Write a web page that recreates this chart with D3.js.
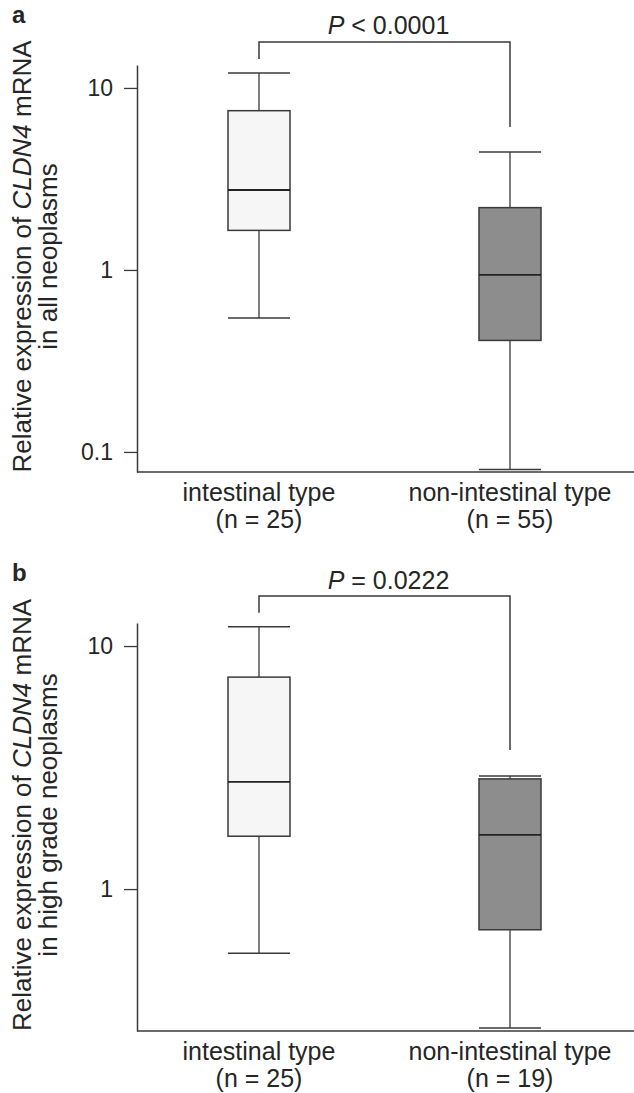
<!DOCTYPE html>
<html>
<head>
<meta charset="utf-8">
<script src="https://cdn.jsdelivr.net/npm/d3@7"></script>
<style>
  html, body { margin: 0; padding: 0; background: #fff; }
  text { font-family: Arial, "Liberation Sans", Helvetica, sans-serif; fill: #262626; }
</style>
</head>
<body>
<div id="chart"></div>
<script>
// groups on the x axis
const categories = ["intestinal type", "non-intestinal type"]
const countsA = [25, 55]
const countsB = [25, 19]

// box stats per group: [lower whisker, Q1, median, Q3, upper whisker]
const boxesA = [[0.545, 1.65, 2.75, 7.5, 12.1], [0.08, 0.41, 0.94, 2.2, 4.45]]
const boxesB = [[0.545, 1.65, 2.76, 7.45, 12.0], [0.268, 0.68, 1.67, 2.84, 2.92]]

// y ticks
const ticksA = [0.1, 1, 10]
const ticksB = [1, 10]

// labels
const panelLetters = ["a", "b"]
const pTexts = ["< 0.0001", "= 0.0222"]
const yLabelSecond = ["in all neoplasms", "in high grade neoplasms"]

window.onload = () => {

  const width = 634
  const height = 1093
  const fills = ["#f6f6f6", "#8d8d8d"]
  const lineColor = "#3a3a3a"

  const svg = d3.select("#chart")
    .append("svg")
    .attr("width", width)
    .attr("height", height)

  const x = d3.scalePoint()
    .domain(categories)
    .range([259, 510])

  const panels = [
    { letter: panelLetters[0], boxes: boxesA, counts: countsA, ticks: ticksA, p: pTexts[0], line2: yLabelSecond[0],
      y: d3.scaleLog().domain([0.0776, 13.37]).range([472, 65]), bracketTop: 42, legGap: [14, 25], textY: 34 },
    { letter: panelLetters[1], boxes: boxesB, counts: countsB, ticks: ticksB, p: pTexts[1], line2: yLabelSecond[1],
      y: d3.scaleLog().domain([0.2606, 12.44]).range([1031, 623]), bracketTop: 596, legGap: [14, 26], textY: 589 }
  ]

  const axisLeft = 137
  const boxW = 62

  panels.forEach(pn => {
    const g = svg.append("g")
    const [y0, y1] = pn.y.range()

    // panel letter
    g.append("text")
      .attr("x", 12)
      .attr("y", y1 - 42)
      .style("font-size", "24px")
      .style("font-weight", "bold")
      .text(pn.letter)

    // y axis
    const yAxis = d3.axisLeft(pn.y)
      .tickValues(pn.ticks)
      .tickFormat(d3.format("~g"))
      .tickSize(13)
      .tickPadding(11)
      .tickSizeOuter(0)

    const ya = g.append("g")
      .attr("transform", `translate(${axisLeft},0)`)
      .call(yAxis)
    ya.select(".domain").attr("stroke", lineColor).attr("stroke-width", 1.5)
    ya.selectAll(".tick line").attr("stroke", lineColor).attr("stroke-width", 1.3)
    ya.selectAll(".tick text")
      .style("font-size", "23px")
      .style("font-family", "Arial, 'Liberation Sans', sans-serif")
      .style("fill", "#262626")

    // x axis line
    g.append("line")
      .attr("x1", axisLeft).attr("x2", width)
      .attr("y1", y0).attr("y2", y0)
      .attr("stroke", lineColor)
      .attr("stroke-width", 1.5)

    // category labels
    categories.forEach((c, i) => {
      g.append("text")
        .attr("x", x(c))
        .attr("y", y0 + 29)
        .attr("text-anchor", "middle")
        .style("font-size", "25px")
        .text(c)
      g.append("text")
        .attr("x", x(c))
        .attr("y", y0 + 56)
        .attr("text-anchor", "middle")
        .style("font-size", "25px")
        .text(`(n = ${pn.counts[i]})`)
    })

    // y label
    const midY = (y0 + y1) / 2 - 12
    const lab = g.append("text")
      .attr("transform", `translate(31,${midY}) rotate(-90)`)
      .attr("text-anchor", "middle")
      .style("font-size", "26px")
    lab.append("tspan").text("Relative expression of ")
    lab.append("tspan").style("font-style", "italic").text("CLDN4")
    lab.append("tspan").text(" mRNA")

    g.append("text")
      .attr("transform", `translate(57,${midY}) rotate(-90)`)
      .attr("text-anchor", "middle")
      .style("font-size", "26px")
      .text(pn.line2)

    // boxes
    pn.boxes.forEach((b, i) => {
      const cx = x(categories[i])
      const [lo, q1, med, q3, hi] = b
      const bg = g.append("g")

      // whiskers
      bg.append("line")
        .attr("x1", cx).attr("x2", cx)
        .attr("y1", pn.y(q3)).attr("y2", pn.y(hi))
        .attr("stroke", lineColor).attr("stroke-width", 1.3)
      bg.append("line")
        .attr("x1", cx).attr("x2", cx)
        .attr("y1", pn.y(q1)).attr("y2", pn.y(lo))
        .attr("stroke", lineColor).attr("stroke-width", 1.3)

      // caps
      ;[lo, hi].forEach(v => {
        bg.append("line")
          .attr("x1", cx - boxW / 2).attr("x2", cx + boxW / 2)
          .attr("y1", pn.y(v)).attr("y2", pn.y(v))
          .attr("stroke", lineColor).attr("stroke-width", 1.5)
      })

      // box
      bg.append("rect")
        .attr("x", cx - boxW / 2)
        .attr("y", pn.y(q3))
        .attr("width", boxW)
        .attr("height", pn.y(q1) - pn.y(q3))
        .attr("fill", fills[i])
        .attr("stroke", lineColor)
        .attr("stroke-width", 1.5)

      // median
      bg.append("line")
        .attr("x1", cx - boxW / 2).attr("x2", cx + boxW / 2)
        .attr("y1", pn.y(med)).attr("y2", pn.y(med))
        .attr("stroke", "#222").attr("stroke-width", 1.8)
    })

    // significance bracket
    const xl = x(categories[0]), xr = x(categories[1])
    const leftEnd = pn.y(pn.boxes[0][4]) - pn.legGap[0]
    const rightEnd = pn.y(pn.boxes[1][4]) - pn.legGap[1]
    g.append("path")
      .attr("d", `M${xl},${leftEnd}V${pn.bracketTop}H${xr}V${rightEnd}`)
      .attr("fill", "none")
      .attr("stroke", lineColor)
      .attr("stroke-width", 1.5)

    const pt = g.append("text")
      .attr("x", (xl + xr) / 2 + 4)
      .attr("y", pn.textY)
      .attr("text-anchor", "middle")
      .style("font-size", "25px")
    pt.append("tspan").style("font-style", "italic").text("P")
    pt.append("tspan").text(" " + pn.p)
  })
}
</script>
</body>
</html>
